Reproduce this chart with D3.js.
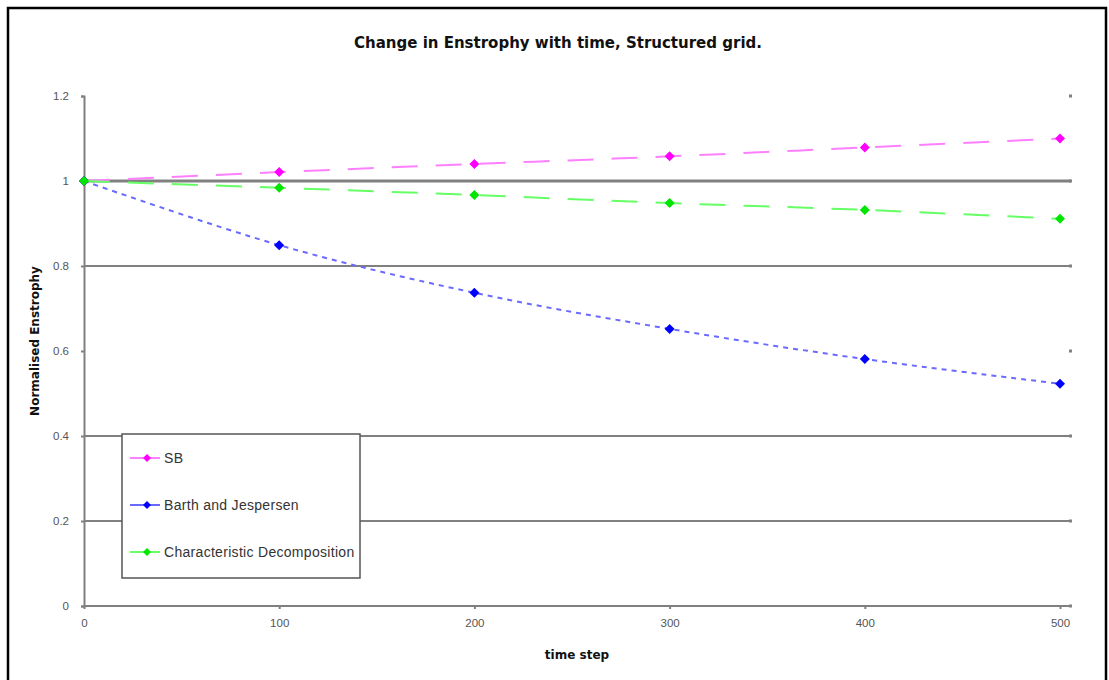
<!DOCTYPE html>
<html>
<head>
<meta charset="utf-8">
<script src="https://cdn.jsdelivr.net/npm/d3@7/dist/d3.min.js"></script>
<style>
  html, body { margin: 0; padding: 0; background: #fff; }
  svg { display: block; font-family: Arial, "Liberation Sans", sans-serif; }
</style>
</head>
<body>
<svg id="chart" width="1109" height="680"></svg>
<script>
// Time steps and normalised enstrophy for each scheme
const timeSteps = [0, 100, 200, 300, 400, 500];
const sbValues = [1.0, 1.021, 1.040, 1.058, 1.079, 1.100];
const barthValues = [1.0, 0.849, 0.737, 0.652, 0.581, 0.523];
const charValues = [1.0, 0.984, 0.967, 0.948, 0.932, 0.911];

const seriesNames = ["SB", "Barth and Jespersen", "Characteristic Decomposition"];
const yTicks = [0, 0.2, 0.4, 0.6, 0.8, 1, 1.2];
const yGridValues = [0.2, 0.4, 0.8, 1];
const xTicks = [0, 100, 200, 300, 400, 500];

const chartTitle = "Change in Enstrophy with time, Structured grid.";
const xTitle = "time step";
const yTitle = "Normalised Enstrophy";

const svg = d3.select("#chart");

// outer frame
svg.append("path")
  .attr("d", "M8,682 L8,8 L1106,8 L1106,682")
  .attr("fill", "none").attr("stroke", "#000").attr("stroke-width", 2.5);

const x = d3.scaleLinear().domain([0, 500]).range([84, 1060]);
const y = d3.scaleLinear().domain([0, 1.2]).range([606, 96]);
const plotRight = 1071;

// horizontal gridlines
svg.append("g").selectAll("line").data(yGridValues).join("line")
  .attr("x1", x(0)).attr("x2", plotRight)
  .attr("y1", d => y(d)).attr("y2", d => y(d))
  .attr("stroke", "#808080")
  .attr("stroke-width", d => d === 1 ? 3 : 2);

// small end marks at the right of the plot area
svg.append("g").selectAll("rect").data(yTicks).join("rect")
  .attr("x", plotRight - 2).attr("y", d => y(d) - 1.5)
  .attr("width", 3).attr("height", 3)
  .attr("fill", "#808080");

// y axis
const yAxis = d3.axisLeft(y).tickValues(yTicks).tickSize(3).tickPadding(12)
  .tickFormat(d3.format("~g"));
const gy = svg.append("g").attr("transform", `translate(${x(0)},0)`).call(yAxis);
gy.select(".domain").attr("stroke", "#808080").attr("stroke-width", 2);
gy.selectAll(".tick line").attr("stroke", "#808080").attr("stroke-width", 2);
gy.selectAll(".tick text").attr("fill", "#555").attr("font-size", 11.5)
  .attr("font-family", "Arial, 'Liberation Sans', sans-serif");

// x axis
const xAxis = d3.axisBottom(x).tickValues(xTicks).tickSize(3).tickPadding(10);
const gx = svg.append("g").attr("transform", `translate(0,${y(0)})`).call(xAxis);
gx.select(".domain").attr("d", `M${x(0)},0H${plotRight}`)
  .attr("stroke", "#808080").attr("stroke-width", 2);
gx.selectAll(".tick line").attr("stroke", "#808080").attr("stroke-width", 2);
gx.selectAll(".tick text").attr("fill", "#555").attr("font-size", 11.5)
  .attr("font-family", "Arial, 'Liberation Sans', sans-serif");

// series
const series = [
  { name: seriesNames[0], values: sbValues, line: "#ff80ff", marker: "#ff00ff", dash: "26,18" },
  { name: seriesNames[1], values: barthValues, line: "#6a6aff", marker: "#0000ff", dash: "5,5" },
  { name: seriesNames[2], values: charValues, line: "#66ff66", marker: "#00e600", dash: "26,18" }
];

const lineGen = d3.line()
  .x(d => x(d[0])).y(d => y(d[1]))
  .curve(d3.curveCatmullRom.alpha(0.5));

// square diamond marker
const diamondPath = r => `M0,${-r}L${r},0L0,${r}L${-r},0Z`;

series.forEach(s => {
  const pts = timeSteps.map((t, i) => [t, s.values[i]]);
  svg.append("path")
    .datum(pts)
    .attr("d", lineGen)
    .attr("fill", "none")
    .attr("stroke", s.line)
    .attr("stroke-width", 2)
    .attr("stroke-dasharray", s.dash);
  svg.append("g").selectAll("path").data(pts).join("path")
    .attr("d", diamondPath(5))
    .attr("transform", d => `translate(${x(d[0])},${y(d[1])})`)
    .attr("fill", s.marker);
});

// titles
svg.append("text")
  .attr("x", 558).attr("y", 48)
  .attr("text-anchor", "middle")
  .attr("font-family", "'DejaVu Sans', sans-serif")
  .attr("font-size", 15).attr("font-weight", "bold")
  .attr("fill", "#111")
  .text(chartTitle);

svg.append("text")
  .attr("x", 577).attr("y", 659)
  .attr("text-anchor", "middle")
  .attr("font-family", "'DejaVu Sans', sans-serif")
  .attr("font-size", 12).attr("font-weight", "bold")
  .attr("fill", "#111")
  .text(xTitle);

svg.append("text")
  .attr("transform", "translate(39,341) rotate(-90)")
  .attr("text-anchor", "middle")
  .attr("font-family", "'DejaVu Sans', sans-serif")
  .attr("font-size", 12).attr("font-weight", "bold")
  .attr("fill", "#111")
  .text(yTitle);

// legend
const legend = svg.append("g").attr("transform", "translate(122,434)");
legend.append("rect")
  .attr("width", 238).attr("height", 144)
  .attr("fill", "#fff").attr("stroke", "#555").attr("stroke-width", 1.5);
const rows = legend.selectAll("g.row").data(series).join("g")
  .attr("class", "row")
  .attr("transform", (d, i) => `translate(0,${24 + i * 47})`);
rows.append("line")
  .attr("x1", 8).attr("x2", 38).attr("y1", 0).attr("y2", 0)
  .attr("stroke", d => d.line).attr("stroke-width", 2);
rows.append("path")
  .attr("d", diamondPath(4))
  .attr("transform", "translate(25,0)")
  .attr("fill", d => d.marker);
rows.append("text")
  .attr("x", 42).attr("y", 5)
  .attr("font-size", 14).attr("fill", "#333")
  .attr("letter-spacing", 0.3)
  .text(d => d.name);
</script>
</body>
</html>
